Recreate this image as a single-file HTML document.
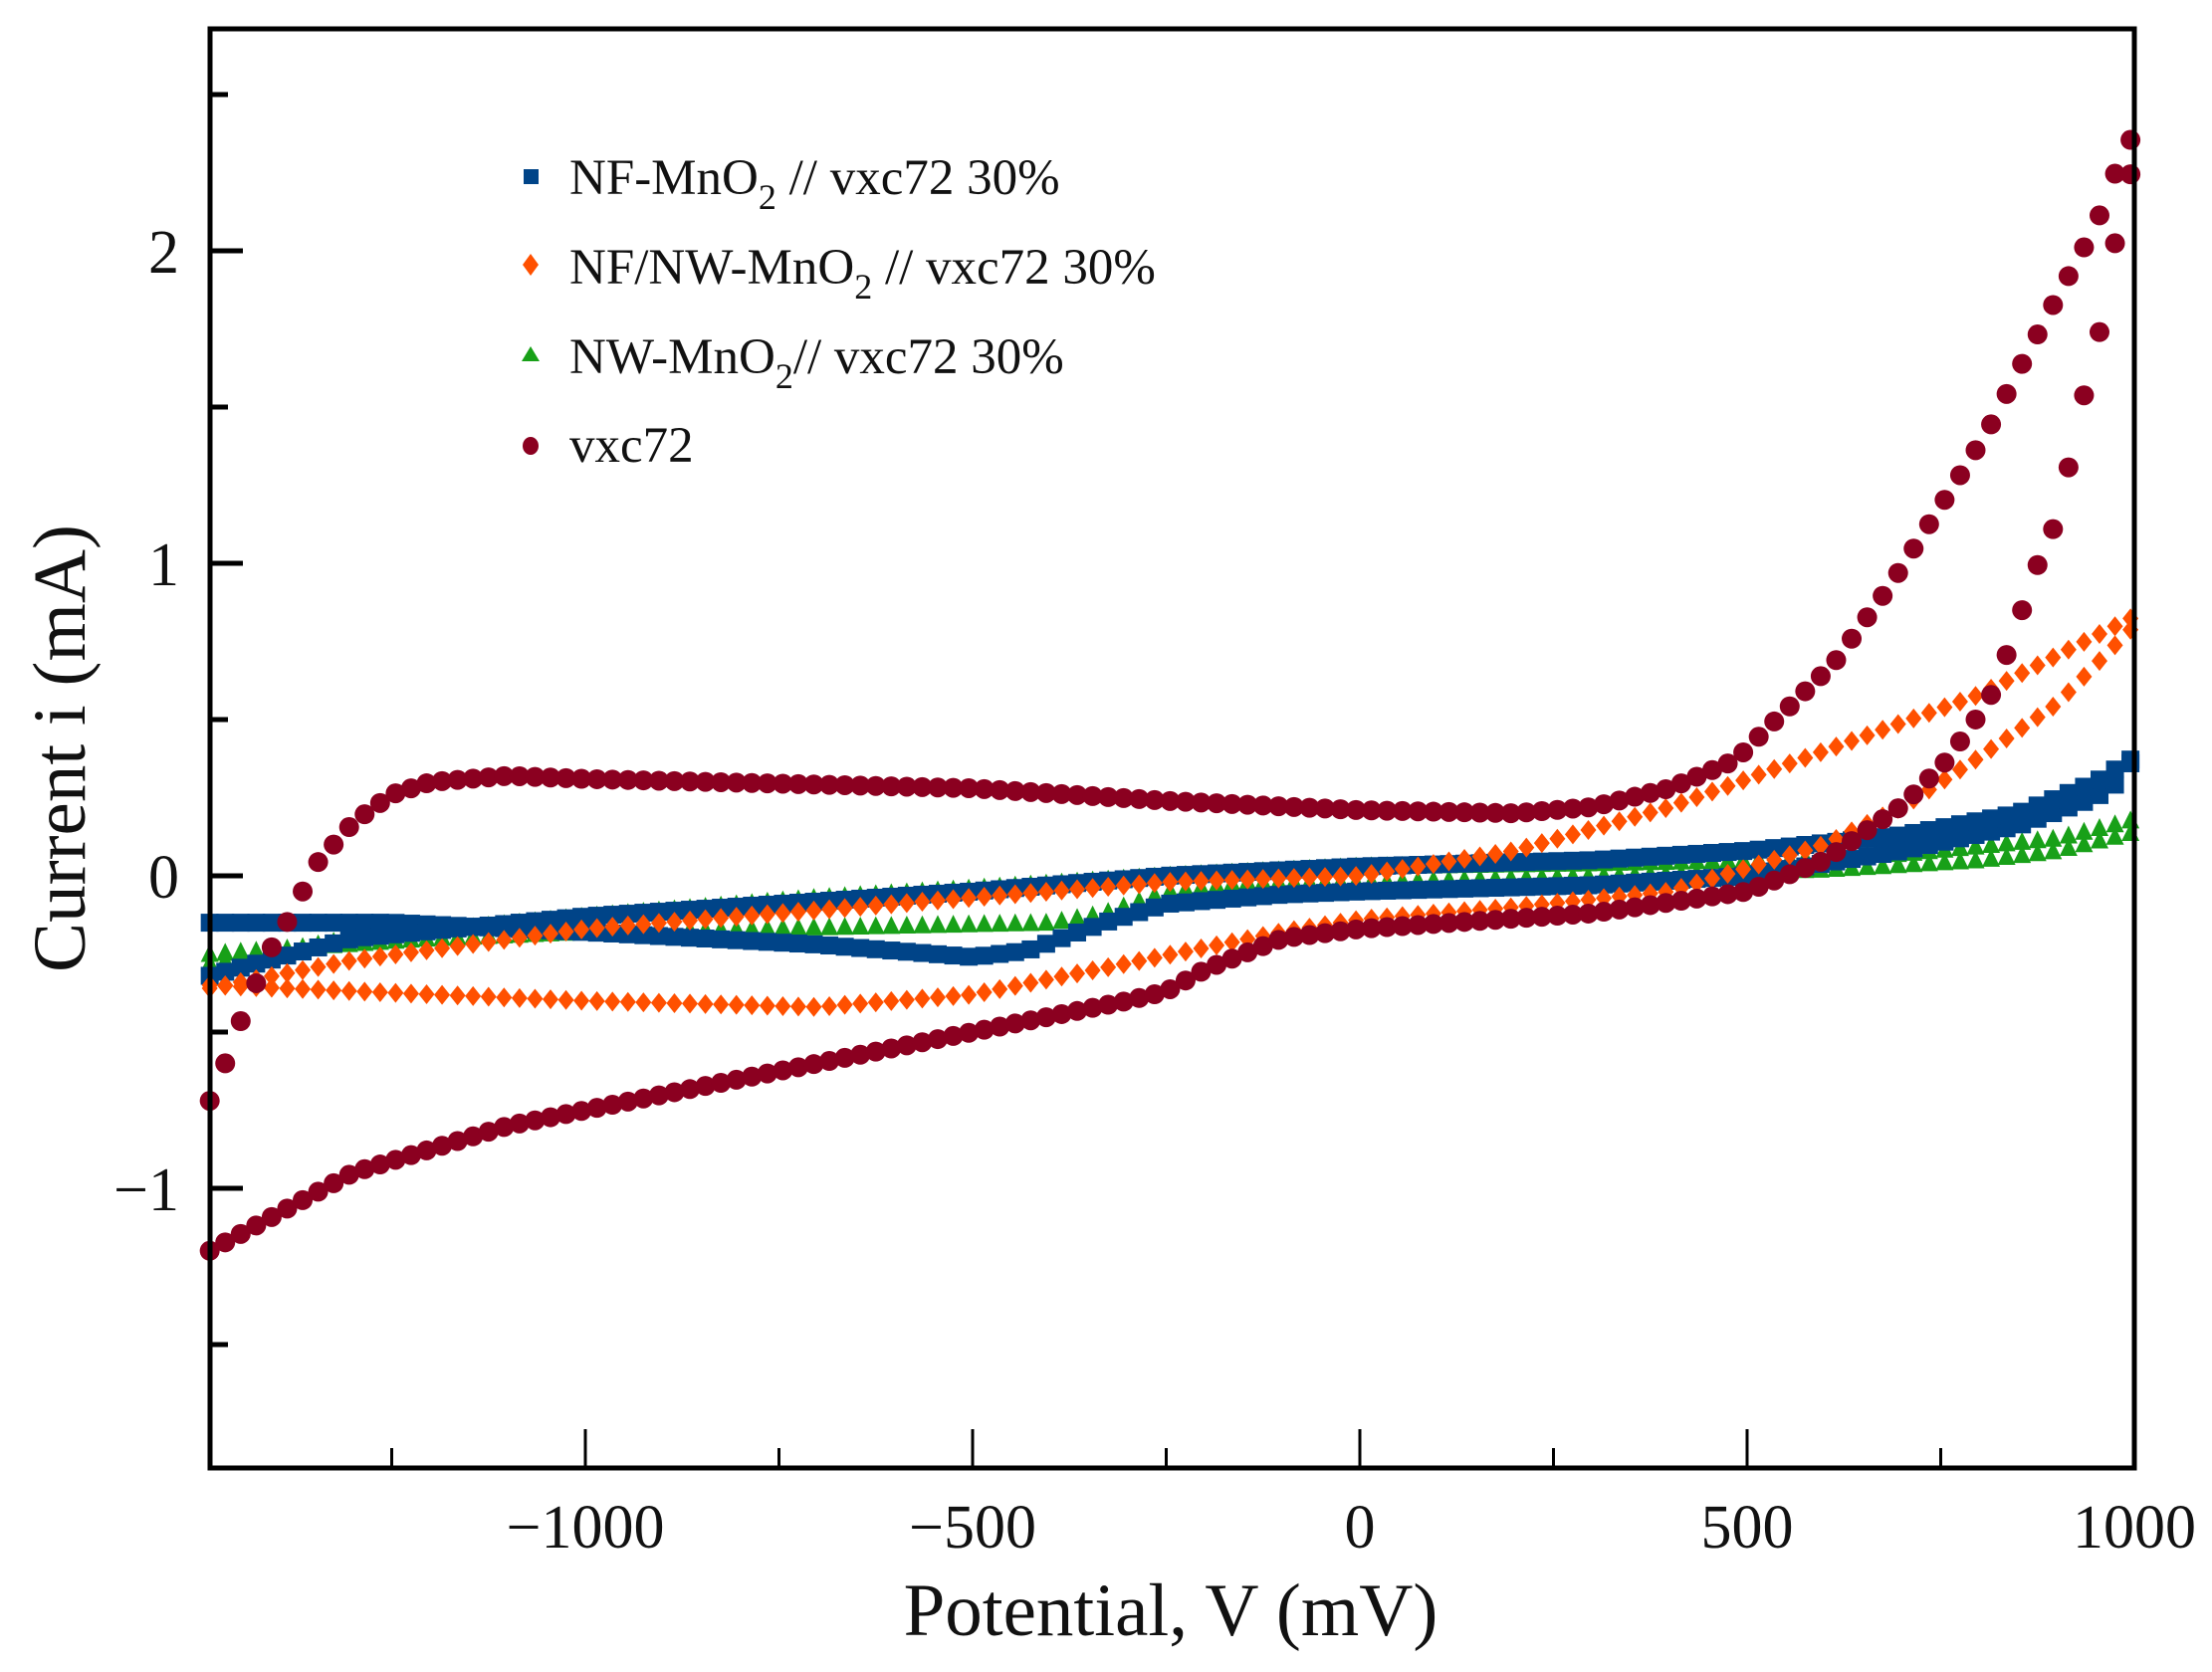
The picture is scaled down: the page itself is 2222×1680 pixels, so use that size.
<!DOCTYPE html>
<html><head><meta charset="utf-8">
<style>
html,body{margin:0;padding:0;background:#fff;}
svg{display:block;}
text{font-family:"Liberation Serif",serif;fill:#111;}
</style></head>
<body>
<svg id="s" width="2222" height="1680" viewBox="0 0 2222 1680" xmlns="http://www.w3.org/2000/svg">
<g id="data"></g>
<rect x="211" y="29" width="1933" height="1446" fill="none" stroke="#000" stroke-width="5"/>
<g stroke="#000" stroke-width="5" id="yt"></g>
<g stroke="#000" stroke-width="3" id="xt"></g>
<g font-size="62" text-anchor="end">
<text x="180" y="274">2</text>
<text x="180" y="588">1</text>
<text x="180" y="902">0</text>
<text x="180" y="1216">−1</text>
</g>
<g font-size="62" text-anchor="middle">
<text x="588" y="1555">−1000</text>
<text x="977" y="1555">−500</text>
<text x="1366" y="1555">0</text>
<text x="1755" y="1555">500</text>
<text x="2144" y="1555">1000</text>
</g>
<text x="1176" y="1643" font-size="75" text-anchor="middle">Potential, V (mV)</text>
<text transform="translate(85,752) rotate(-90)" font-size="75" text-anchor="middle">Current i (mA)</text>
<rect x="526" y="170" width="15" height="15" fill="#004488"/>
<polygon points="533,255 541,266 533,277 525,266" fill="#FF5000"/>
<polygon points="533,348 542,363 524,363" fill="#18A018"/>
<ellipse cx="533" cy="448" rx="8" ry="9" fill="#8B0020"/>
<g font-size="51">
<text x="572" y="195">NF-MnO<tspan font-size="36" dy="15">2</tspan><tspan dy="-15"> // vxc72 30%</tspan></text>
<text x="572" y="285">NF/NW-MnO<tspan font-size="36" dy="15">2</tspan><tspan dy="-15"> // vxc72 30%</tspan></text>
<text x="572" y="375">NW-MnO<tspan font-size="36" dy="15">2</tspan><tspan dy="-15">// vxc72 30%</tspan></text>
<text x="572" y="464">vxc72</text>
</g>
</svg>
<script>
const NS="http://www.w3.org/2000/svg";
const X=v=>1366+v*0.778, Y=i=>880-i*314;
function interp(pts,v){for(let k=0;k<pts.length-1;k++){const a=pts[k],b=pts[k+1];const lo=Math.min(a[0],b[0]),hi=Math.max(a[0],b[0]);if(v>=lo&&v<=hi){const t=(v-a[0])/((b[0]-a[0])||1);return a[1]+t*(b[1]-a[1]);}}return pts[pts.length-1][1];}
const g=document.getElementById('data');
function mk(type,color,x,y){let e;
 if(type=='c'){e=document.createElementNS(NS,'circle');e.setAttribute('cx',x);e.setAttribute('cy',y);e.setAttribute('r',10);}
 else if(type=='s'){e=document.createElementNS(NS,'rect');e.setAttribute('x',x-9);e.setAttribute('y',y-9);e.setAttribute('width',18);e.setAttribute('height',18);}
 else if(type=='d'){e=document.createElementNS(NS,'polygon');e.setAttribute('points',`${x},${y-10} ${x+8},${y} ${x},${y+10} ${x-8},${y}`);}
 else {e=document.createElementNS(NS,'polygon');e.setAttribute('points',`${x},${y-10} ${x+9},${y+8} ${x-9},${y+8}`);}
 e.setAttribute('fill',color);g.appendChild(e);}
function series(type,color,branches,step){branches.forEach(b=>{
 const v0=Math.min(...b.map(p=>p[0])),v1=Math.max(...b.map(p=>p[0]));
 const sorted=b.slice().sort((p,q)=>p[0]-q[0]);
 for(let v=v0;v<=v1+0.01;v+=step){mk(type,color,X(v),Y(interp(sorted,v)));}});}
series('t','#18A018',[
 [[-1485,-0.25],[-1200,-0.2],[-1000,-0.18],[-600,-0.16],[-400,-0.15],[-330,-0.12],[-250,-0.05],[-150,-0.02],[0,-0.02],[300,0.0],[600,0.02],[800,0.05],[900,0.08],[1000,0.14]],
 [[-1485,-0.28],[-1300,-0.2],[-1000,-0.13],[-700,-0.07],[-500,-0.04],[-250,0.0],[0,0.03],[300,0.04],[500,0.05],[700,0.07],[900,0.12],[1000,0.18]]],20);
series('s','#004488',[
 [[-1485,-0.15],[-1250,-0.15],[-1000,-0.18],[-700,-0.22],[-500,-0.26],[-430,-0.24],[-330,-0.15],[-250,-0.09],[-100,-0.06],[0,-0.05],[300,-0.03],[500,0.0],[700,0.08],[850,0.16],[950,0.25],[980,0.3],[1000,0.38]],
 [[-1485,-0.32],[-1300,-0.2],[-1000,-0.13],[-500,-0.05],[-250,0.0],[0,0.03],[300,0.05],[500,0.08],[700,0.13],[850,0.2],[950,0.3],[1000,0.38]]],20);
series('d','#FF5000',[
 [[-1485,-0.35],[-1000,-0.4],[-700,-0.42],[-500,-0.38],[-300,-0.28],[-100,-0.18],[0,-0.14],[200,-0.1],[400,-0.05],[600,0.1],[700,0.22],[800,0.38],[900,0.55],[1000,0.8]],
 [[-1485,-0.36],[-1300,-0.27],[-1000,-0.17],[-500,-0.07],[-250,-0.02],[0,0.0],[200,0.08],[400,0.22],[600,0.4],[800,0.58],[1000,0.83]]],20);
series('c','#8B0020',[
 [[-1485,-0.72],[-1460,-0.57],[-1440,-0.43],[-1400,-0.2],[-1380,-0.13],[-1350,0.03],[-1300,0.17],[-1250,0.26],[-1200,0.3],[-1100,0.32],[-1000,0.31],[-500,0.28],[-250,0.24],[0,0.21],[200,0.2],[300,0.22],[400,0.28],[485,0.37],[521,0.46],[612,0.68],[685,0.93],[767,1.25],[812,1.43],[849,1.61],[900,1.85],[950,2.08],[980,2.28],[1000,2.38]],
 [[-1485,-1.2],[-1300,-0.95],[-1100,-0.8],[-900,-0.7],[-700,-0.6],[-500,-0.5],[-400,-0.45],[-300,-0.4],[-250,-0.37],[-200,-0.3],[-100,-0.2],[0,-0.17],[300,-0.12],[500,-0.05],[600,0.05],[703,0.23],[758,0.37],[812,0.56],[831,0.68],[849,0.8],[867,0.95],[894,1.1],[912,1.27],[929,1.48],[953,1.71],[971,1.98],[1000,2.3]]],20);
const yt=document.getElementById('yt');
for(let i=-1.5;i<=2.51;i+=0.5){const y=Y(i);const L=(Math.abs(i%1)<0.01)?33:18;
 const l=document.createElementNS(NS,'line');l.setAttribute('x1',211);l.setAttribute('x2',211+L);l.setAttribute('y1',y);l.setAttribute('y2',y);yt.appendChild(l);}
const xt=document.getElementById('xt');
for(let v=-1250;v<=1000;v+=250){const x=X(v);const L=(v%500==0)?39:20;
 const l=document.createElementNS(NS,'line');l.setAttribute('x1',x);l.setAttribute('x2',x);l.setAttribute('y1',1475);l.setAttribute('y2',1475-L);xt.appendChild(l);}
</script>
</body></html>
